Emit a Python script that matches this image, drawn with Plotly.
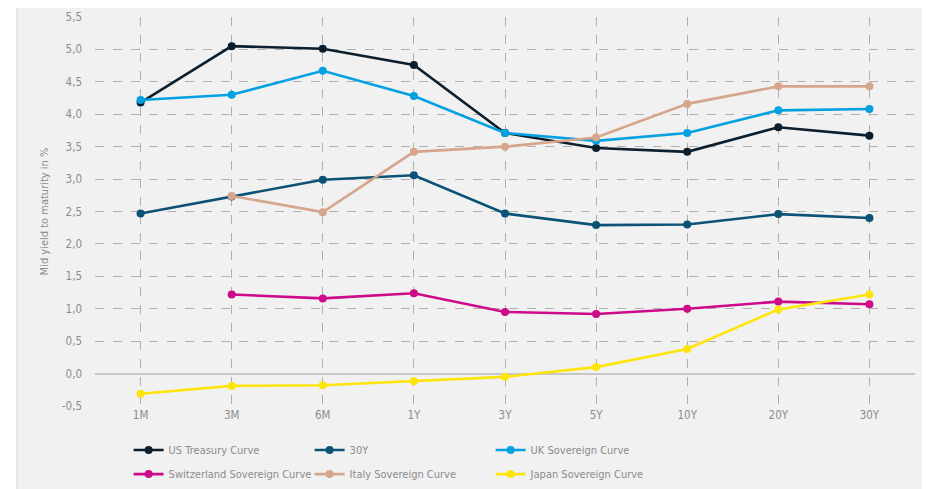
import plotly.graph_objects as go

maturities = ["1M", "3M", "6M", "1Y", "3Y", "5Y", "10Y", "20Y", "30Y"]

us_treasury = [4.18, 5.05, 5.01, 4.76, 3.71, 3.48, 3.42, 3.80, 3.67]
us_30y = [2.47, 2.73, 2.99, 3.06, 2.47, 2.29, 2.30, 2.46, 2.40]
uk_curve = [4.22, 4.30, 4.67, 4.28, 3.71, 3.59, 3.71, 4.06, 4.08]
swiss_curve = [None, 1.22, 1.16, 1.24, 0.95, 0.92, 1.00, 1.11, 1.07]
italy_curve = [None, 2.74, 2.49, 3.42, 3.50, 3.64, 4.16, 4.43, 4.43]
japan_curve = [-0.31, -0.19, -0.18, -0.12, -0.05, 0.10, 0.38, 0.99, 1.22]

y_ticks = [-0.5, 0, 0.5, 1, 1.5, 2, 2.5, 3, 3.5, 4, 4.5, 5, 5.5]
y_tick_labels = ["-0,5", "0,0", "0,5", "1,0", "1,5", "2,0", "2,5",
                 "3,0", "3,5", "4,0", "4,5", "5,0", "5,5"]

series = [
    ("US Treasury Curve", us_treasury, "#0c1f2e", "legend"),
    ("30Y", us_30y, "#0b5276", "legend"),
    ("UK Sovereign Curve", uk_curve, "#03a0e2", "legend"),
    ("Switzerland Sovereign Curve", swiss_curve, "#cc0a8a", "legend2"),
    ("Italy Sovereign Curve", italy_curve, "#d5a68c", "legend2"),
    ("Japan Sovereign Curve", japan_curve, "#fde40a", "legend2"),
]

font_fam = "DejaVu Sans Condensed, sans-serif"
grey_txt = "#8c8c8c"

fig = go.Figure()
for name, vals, col, leg in series:
    fig.add_trace(go.Scatter(
        x=maturities, y=vals, name=name, mode="lines+markers",
        line=dict(color=col, width=2.6),
        marker=dict(color=col, size=8),
        legend=leg,
    ))

# grey card behind the chart (page has an 8px body margin, so margins are shifted)
fig.add_shape(type="rect", xref="paper", yref="paper",
              x0=-0.0951, x1=1.05, y0=-0.35, y1=1.03,
              fillcolor="#f1f1f1", line=dict(color="#e2e2e2", width=1.5),
              layer="below")

legend_common = dict(
    orientation="h", xanchor="left", yanchor="middle",
    font=dict(family=font_fam, size=11, color=grey_txt),
    bgcolor="rgba(0,0,0,0)", entrywidth=136, entrywidthmode="pixels",
    itemwidth=30, tracegroupgap=0,
)

fig.update_layout(
    width=930, height=489,
    margin=dict(l=87, r=23, t=9, b=91, autoexpand=False),
    paper_bgcolor="white",
    plot_bgcolor="rgba(0,0,0,0)",
    font=dict(family=font_fam, color=grey_txt),
    legend=dict(x=0.041, y=-0.113, **legend_common),
    legend2=dict(x=0.041, y=-0.175, **legend_common),
    xaxis=dict(
        range=[-0.5, 8.5], showgrid=True, gridcolor="#b0b0b0", griddash="dash",
        gridwidth=1, zeroline=False, showline=False, ticks="",
        tickfont=dict(size=11.5, color=grey_txt),
    ),
    yaxis=dict(
        range=[-0.5, 5.5], tickvals=y_ticks, ticktext=y_tick_labels,
        showgrid=True, gridcolor="#b0b0b0", griddash="dash", gridwidth=1,
        zeroline=True, zerolinecolor="#c6c6c6", zerolinewidth=1.5,
        showline=False, ticks="", ticklabelstandoff=12,
        tickfont=dict(size=11.5, color=grey_txt),
        title=dict(text="Mid yield to maturity in %", standoff=10,
                   font=dict(size=11, color=grey_txt)),
    ),
)

fig.write_html("out.html")
